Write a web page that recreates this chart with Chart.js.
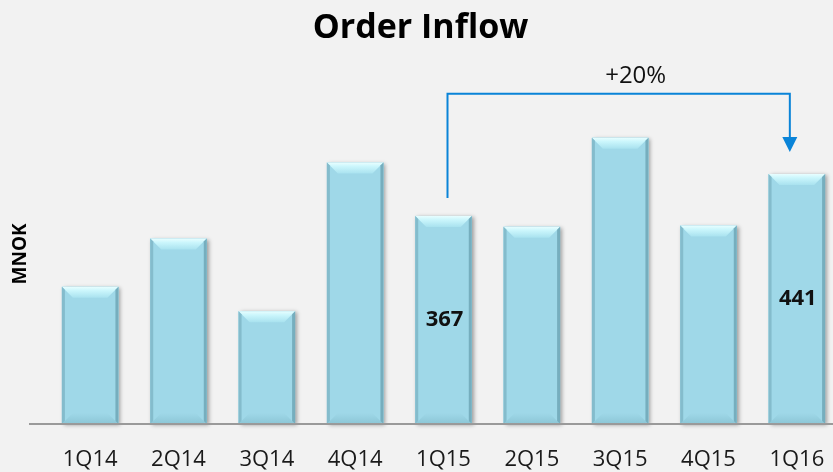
<!DOCTYPE html>
<html>
<head>
<meta charset="utf-8">
<script src="https://cdn.jsdelivr.net/npm/chart.js@4.4.1/dist/chart.umd.min.js"></script>
<style>
  html, body { margin: 0; padding: 0; background: #f2f2f2; overflow: hidden; }
  #wrap { width: 833px; height: 472px; overflow: hidden; }
</style>
</head>
<body>
<div id="wrap"><canvas id="orderChart" width="850" height="472"></canvas></div>
<script>
var quarters = ['1Q14', '2Q14', '3Q14', '4Q14', '1Q15', '2Q15', '3Q15', '4Q15', '1Q16'];
var orderInflow = [242, 327, 199, 461, 367, 348, 505, 350, 441];
var labelledBars = [4, 8];
var growthText = '+20%';

var FONT = '"Open Sans", sans-serif';

var bevelPlugin = {
    id: 'bevel',
    beforeDatasetsDraw: function (chart) {
        var ctx = chart.ctx;
        ctx.save();
        ctx.shadowColor = 'rgba(0,0,0,0.35)';
        ctx.shadowBlur = 4;
        ctx.shadowOffsetX = 2;
        ctx.shadowOffsetY = 1;
        ctx.fillStyle = '#9fd8e8';
        chart.getDatasetMeta(0).data.forEach(function (bar) {
            var l = bar.x - bar.width / 2;
            ctx.fillRect(l, bar.y, bar.width, bar.base - bar.y);
        });
        ctx.restore();
    },
    afterDatasetsDraw: function (chart) {
        var ctx = chart.ctx;
        var b = 11;
        ctx.save();
        chart.getDatasetMeta(0).data.forEach(function (bar) {
            var l = bar.x - bar.width / 2, r = bar.x + bar.width / 2;
            var t = bar.y, btm = bar.base;
            // top bevel
            var g = ctx.createLinearGradient(0, t, 0, t + b);
            g.addColorStop(0, '#e8feff');
            g.addColorStop(0.35, '#cbf6fc');
            g.addColorStop(1, '#a9e2ef');
            ctx.fillStyle = g;
            ctx.beginPath();
            ctx.moveTo(l, t); ctx.lineTo(r, t); ctx.lineTo(r - b, t + b); ctx.lineTo(l + b, t + b);
            ctx.closePath(); ctx.fill();
            // bottom bevel
            g = ctx.createLinearGradient(0, btm - b, 0, btm);
            g.addColorStop(0, '#9fd8e8');
            g.addColorStop(1, '#8cc6d6');
            ctx.fillStyle = g;
            ctx.beginPath();
            ctx.moveTo(l, btm); ctx.lineTo(r, btm); ctx.lineTo(r - b, btm - b); ctx.lineTo(l + b, btm - b);
            ctx.closePath(); ctx.fill();
            // side bevels
            ctx.fillStyle = '#84bccc';
            ctx.beginPath();
            ctx.moveTo(l, t); ctx.lineTo(l + 3, t + 3); ctx.lineTo(l + 3, btm - 3); ctx.lineTo(l, btm);
            ctx.closePath(); ctx.fill();
            ctx.fillStyle = '#76aebe';
            ctx.beginPath();
            ctx.moveTo(r, t); ctx.lineTo(r - 3, t + 3); ctx.lineTo(r - 3, btm - 3); ctx.lineTo(r, btm);
            ctx.closePath(); ctx.fill();
        });
        ctx.restore();
    },
    afterDraw: function (chart) {
        var ctx = chart.ctx;
        var bars = chart.getDatasetMeta(0).data;
        var y0 = chart.scales.y.getPixelForValue(0);
        ctx.save();
        // baseline
        ctx.strokeStyle = '#9a9a9a';
        ctx.lineWidth = 2;
        ctx.beginPath();
        ctx.moveTo(29, y0); ctx.lineTo(chart.width, y0);
        ctx.stroke();
        // value labels in the middle of the bars
        ctx.fillStyle = '#111';
        ctx.font = 'bold 22px ' + FONT;
        ctx.textAlign = 'center';
        ctx.textBaseline = 'middle';
        labelledBars.forEach(function (i) {
            var bar = bars[i];
            ctx.fillText(String(orderInflow[i]), bar.x + 1, (bar.y + bar.base) / 2);
        });
        // growth arrow
        var a = bars[labelledBars[0]], z = bars[labelledBars[1]];
        var x1 = a.x + 4, x2 = z.x - 7;
        var yTop = chart.chartArea.top + 10;
        ctx.strokeStyle = '#0a84d8';
        ctx.fillStyle = '#0a84d8';
        ctx.lineWidth = 2;
        ctx.beginPath();
        ctx.moveTo(x1, a.y - 18);
        ctx.lineTo(x1, yTop);
        ctx.lineTo(x2, yTop);
        ctx.lineTo(x2, z.y - 36);
        ctx.stroke();
        ctx.beginPath();
        ctx.moveTo(x2 - 7.5, z.y - 37);
        ctx.lineTo(x2 + 7.5, z.y - 37);
        ctx.lineTo(x2, z.y - 22);
        ctx.closePath(); ctx.fill();
        ctx.fillStyle = '#111';
        ctx.font = '24px ' + FONT;
        ctx.textBaseline = 'middle';
        ctx.fillText(growthText, (x1 + x2) / 2 + 17, yTop - 18);
        ctx.restore();
    }
};

new Chart(document.getElementById('orderChart'), {
    type: 'bar',
    data: {
        labels: quarters,
        datasets: [{
            label: 'Order Inflow',
            data: orderInflow,
            backgroundColor: '#9fd8e8',
            borderWidth: 0,
            categoryPercentage: 1,
            barPercentage: 0.64
        }]
    },
    options: {
        responsive: false,
        animation: false,
        layout: { padding: { left: 0, right: 9, top: 0, bottom: 0 } },
        plugins: {
            legend: { display: false },
            tooltip: { enabled: false },
            title: {
                display: true,
                text: 'Order Inflow',
                color: '#000',
                font: { family: FONT, size: 34, weight: 'bold', lineHeight: 1.2 },
                padding: { top: 8, bottom: 35 }
            }
        },
        scales: {
            x: {
                grid: { display: false, drawTicks: false },
                border: { display: false },
                ticks: { color: '#1a1a1a', font: { family: FONT, size: 22 }, padding: 23, maxRotation: 0 },
                afterFit: function (axis) { axis.height = 48; }
            },
            y: {
                min: 0,
                max: 600,
                grid: { display: false },
                border: { display: false },
                ticks: { display: false },
                title: {
                    display: true,
                    text: 'MNOK',
                    color: '#000',
                    font: { family: FONT, size: 19, weight: 'bold', lineHeight: 1.2 },
                    padding: { top: 9 }
                },
                afterFit: function (axis) { axis.width = 46; }
            }
        }
    },
    plugins: [bevelPlugin]
});
</script>
</body>
</html>
